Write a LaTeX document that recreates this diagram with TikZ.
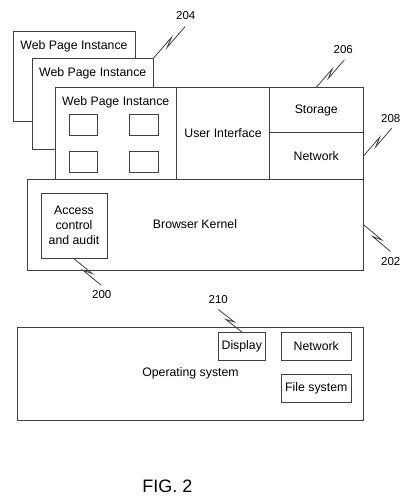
\documentclass[tikz,border=0pt]{standalone}
\usepackage{fontspec}
\setmainfont{Liberation Sans}
\usetikzlibrary{calc}

\definecolor{linegray}{gray}{0.25}

% lead line with a small zigzag in the middle
\newcommand{\zigline}[2]{\draw [linegray, line width = .8pt] (#1) -- ($(#1)!0.62!(#2)!2pt!90:(#2)$) -- ($(#1)!0.38!(#2)!2pt!-90:(#2)$) -- (#2);}

\begin{document}
\begin{tikzpicture}[x = 1pt, y = -1pt]
		\tikzstyle{every node} = [font = \fontsize{12.3}{15}\selectfont, inner sep = 0pt]
		\tikzstyle{box} = [draw = linegray, line width = .8pt, fill = white, minimum width = #1]
		\tikzstyle{refnum} = [font = \fontsize{11.5}{13}\selectfont]
		\useasboundingbox (0,0) rectangle (405,496);

		% web page instances, back to front
		\node [box = 121.7pt, minimum height = 90pt] (wpiA) at (74.2,76.7) {};
		\node (wpiAt) at (74,46.5) {Web Page Instance};
		\node [box = 121pt, minimum height = 90.7pt] (wpiB) at (92.8,103.7) {};
		\node (wpiBt) at (92.7,73.2) {Web Page Instance};
		\node [box = 121.7pt, minimum height = 91.3pt] (wpiC) at (115.8,133.3) {};
		\node (wpiCt) at (115.7,102.3) {Web Page Instance};
		\foreach \x/\y [count = \i] in {83.3/124.7, 143.8/124.7, 83.3/161.7, 143.8/161.7}
		{
			\node [box = 28.7pt, minimum height = 21.3pt] (elem\i) at (\x,\y) {};
		}

		\node [box = 92.6pt, minimum height = 91.3pt] (ui) at (223,133.3) {User Interface};
		\node [box = 94pt, minimum height = 45pt] (storage) at (316.3,110.2) {Storage};
		\node [box = 94pt, minimum height = 46.3pt] (network) at (316.3,155.8) {Network};

		% kernel
		\node [box = 336pt, minimum height = 91.7pt] (kernel) at (195.3,224.8) {};
		\node (kernelt) at (195,224.3) {Browser Kernel};
		\node [box = 66pt, minimum height = 65pt, align = center] (access) at (74,225.8) {Access\\control\\and audit};

		% operating system
		\node [box = 345.6pt, minimum height = 92.3pt] (os) at (190.5,373.8) {Operating system};
		\node [box = 47pt, minimum height = 28.4pt] (display) at (241.8,346.5) {Display};
		\node [box = 70.7pt, minimum height = 28.4pt] (osnet) at (316.3,346.5) {Network};
		\node [box = 70.7pt, minimum height = 28pt] (files) at (316.3,388.3) {File system};

		% reference numerals
		\node [refnum] (n204) at (185.7,15.7) {204};
		\node [refnum] (n206) at (343.3,50) {206};
		\node [refnum] (n208) at (390.7,118.3) {208};
		\node [refnum] (n202) at (390.7,261.7) {202};
		\node [refnum] (n200) at (101.7,295) {200};
		\node [refnum] (n210) at (218.3,299.3) {210};
		\coordinate (e204) at (185,26.7);
		\coordinate (e206) at (344.3,60);
		\coordinate (e208) at (391.7,128.3);
		\coordinate (e202) at (390.5,251.5);
		\coordinate (e200) at (101,285);
		\coordinate (e210) at (218.3,309.5);

		\zigline{wpiB.north east}{e204}
		\zigline{storage.north}{e206}
		\zigline{network.east}{e208}
		\zigline{kernel.east}{e202}
		\zigline{access.south}{e200}
		\zigline{e210}{display.north}

		\node [font = \fontsize{18}{20}\selectfont] (fig) at (167.3,486.5) {FIG. 2};
	\end{tikzpicture}
\end{document}
